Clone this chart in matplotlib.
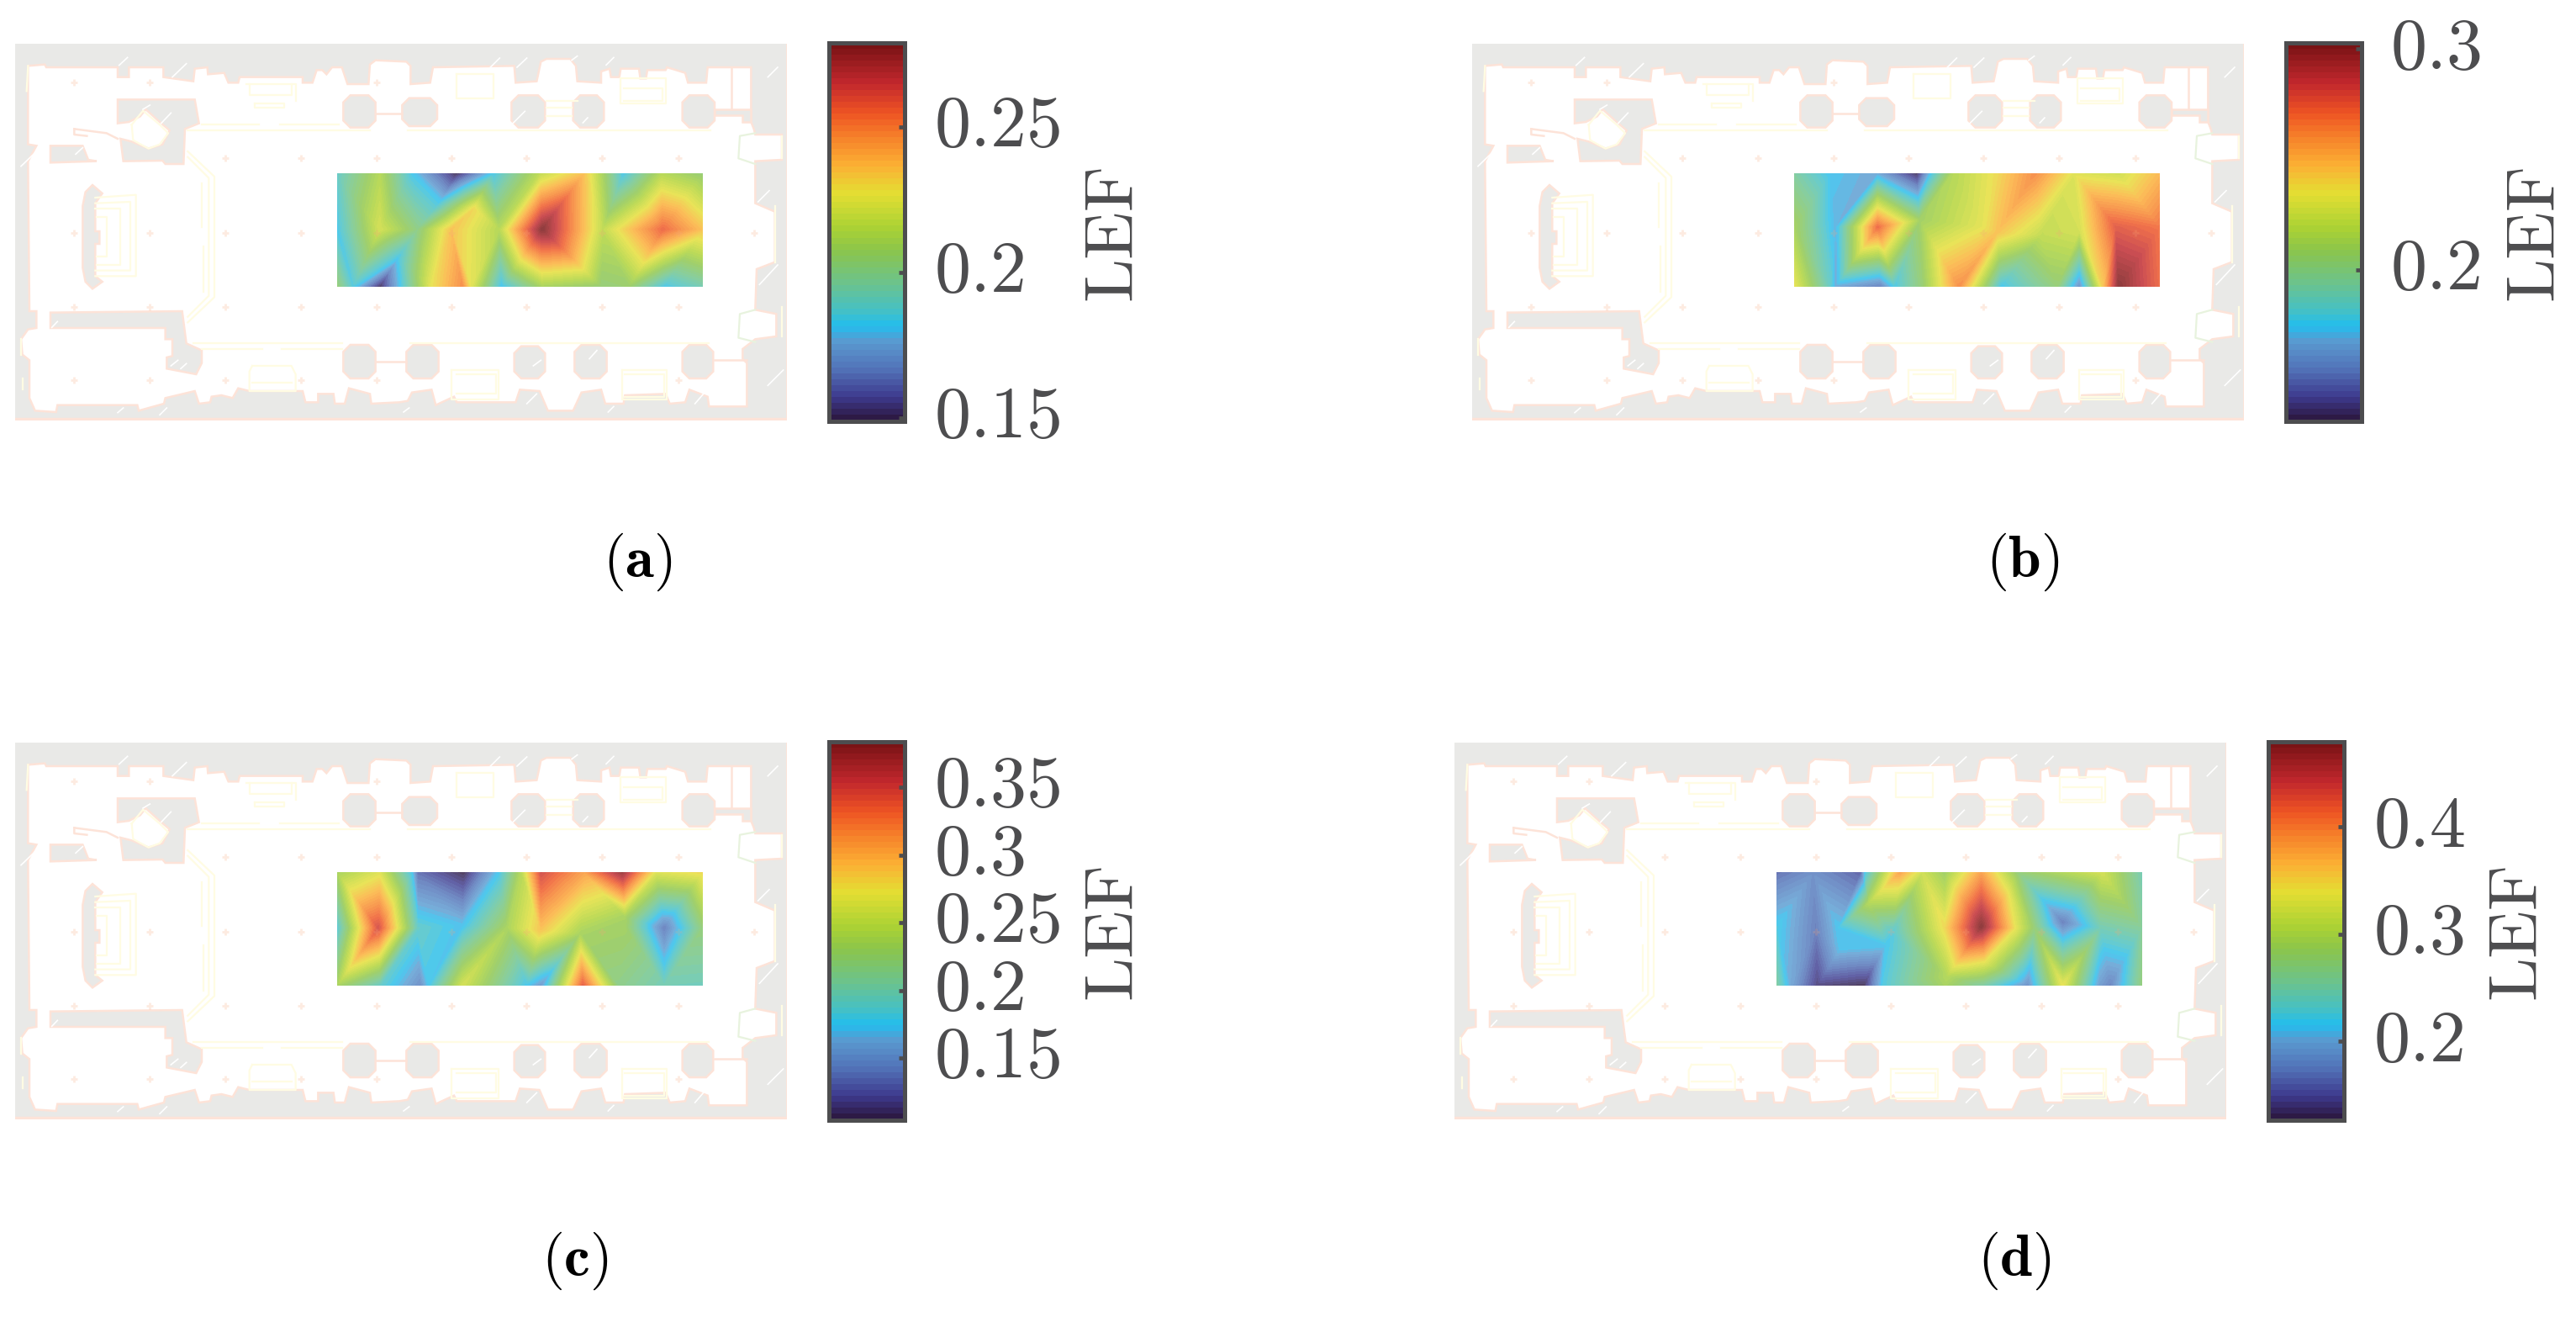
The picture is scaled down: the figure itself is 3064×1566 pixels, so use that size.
import numpy as np
import matplotlib
matplotlib.use("Agg")
import matplotlib.pyplot as plt
import matplotlib.tri as mtri
from matplotlib.cm import ScalarMappable
from matplotlib.colors import LinearSegmentedColormap, Normalize
from matplotlib.patches import Polygon
from matplotlib.transforms import ScaledTranslation

plt.rcParams['font.family'] = ['cmr10', 'DejaVu Sans']
plt.rcParams['mathtext.fontset'] = 'cm'
plt.rcParams['axes.formatter.use_mathtext'] = True

W, H = 3064, 1566
TEXT = '#4d4d4f'
GREY = '#e9e9e7'
ORANGE = '#fde3d8'
YELLOW = '#fffce3'

# heat map nodes: x, y (0-1305, 0-405), LEF value
a_x = [0, 152, 267, 427, 557, 727, 882, 1022, 1157, 1305,
       0, 152, 287, 407, 577, 732, 947, 1162, 1305, 487, 367, 217,
       0, 57, 152, 227, 287, 337, 447, 477, 587, 732, 942, 1042, 1167, 1305]
a_y = [0] * 10 + [200] * 9 + [127, 102, 302] + [405] * 14
a_v = [.188, .214, .182, .149, .182, .217, .235, .182, .214, .204,
       .182, .222, .201, .235, .214, .279, .217, .256, .235, .230, .182, .182,
       .204, .184, .149, .182, .207, .227, .248, .226, .180, .210, .204, .206, .182, .192]

b_x = [0, 128, 298, 438, 488, 568, 728, 858, 1000, 1158, 1305,
       0, 148, 298, 448, 678, 723, 880, 1018, 1148, 1305,
       0, 128, 148, 308, 358, 458, 588, 738, 938, 1018, 1103, 1158, 1305]
b_y = [0] * 11 + [192, 192, 192, 167, 192, 212, 220, 200, 192, 192] + [405] * 13
b_v = [.193, .174, .166, .132, .174, .217, .238, .262, .231, .226, .248,
       .212, .169, .272, .210, .234, .245, .222, .228, .277, .269,
       .234, .183, .166, .152, .176, .205, .262, .174, .204, .157, .243, .303, .272]

c_x = [0, 152, 267, 287, 452, 577, 657, 727, 882, 1017, 1137, 1305,
       0, 147, 287, 447, 607, 727, 867, 1027, 1167, 1305, 1027,
       0, 152, 297, 327, 447, 677, 727, 877, 1002, 1167, 1305]
c_y = [0] * 12 + [199, 199, 199, 189, 199, 205, 219, 199, 199, 199, 159] + [405] * 11
c_v = [.236, .266, .174, .132, .104, .174, .244, .350, .306, .376, .266, .278,
       .180, .348, .188, .171, .238, .289, .236, .233, .138, .222, .236,
       .236, .188, .146, .174, .261, .174, .152, .339, .216, .196, .194]

d_x = [0, 131, 301, 316, 441, 521, 601, 731, 861, 1161, 1305,
       0, 141, 221, 411, 601, 731, 851, 1021, 1156, 1305,
       231, 391, 331, 821, 661, 611, 741, 921,
       0, 51, 146, 311, 381, 601, 736, 896, 1021, 1151, 1191, 1305]
d_y = [0] * 11 + [199, 209, 199, 219, 199, 194, 199, 179, 199, 199,
                  269, 259, 109, 79, 299, 369, 319, 199] + [405] * 12
d_v = [.162, .180, .155, .215, .381, .321, .286, .381, .275, .325, .243,
       .222, .169, .215, .222, .346, .480, .339, .169, .243, .258,
       .215, .215, .304, .346, .374, .304, .339, .275,
       .254, .198, .138, .127, .222, .293, .251, .180, .339, .191, .173, .275]

a_ticks = [0.15, 0.2, 0.25]
b_ticks = [0.2, 0.3]
c_ticks = [0.15, 0.2, 0.25, 0.3, 0.35]
d_ticks = [0.2, 0.3, 0.4]
a_labels = ['0.15', '0.2', '0.25']
b_labels = ['0.2', '0.3']
c_labels = ['0.15', '0.2', '0.25', '0.3', '0.35']
d_labels = ['0.2', '0.3', '0.4']
limits = {'a': (.1489, .279), 'b': (.1315, .303), 'c': (.1043, .384), 'd': (.127, .480)}

# colour bar colours, bottom to top
cbar_pos = [0, .056, .13, .205, .247, .288, .363, .452, .512, .602, .677, .752, .819, .90, 1]
cbar_col = ['#2d1a45', '#3e3a8e', '#5272b8', '#5a9ad0', '#22bdee', '#45c0c5', '#6cc38c', '#8cc54a',
            '#acd234', '#e4de33', '#fbb034', '#f6822a', '#ee5323', '#c1272d', '#7a1315']

# floor plan outline, in zoomed picture units
hall = [(70, 100), (130, 95), (135, 105), (390, 105), (390, 140), (430, 140), (430, 105), (553, 105), (553, 140),
        (660, 155), (665, 110), (710, 105), (712, 130), (770, 125), (785, 160), (820, 160), (825, 140), (1050, 140),
        (1050, 160), (1085, 160), (1100, 115), (1120, 115), (1135, 130), (1155, 105), (1190, 105), (1210, 165),
        (1285, 165), (1290, 95), (1310, 80), (1420, 85), (1435, 100), (1435, 165), (1505, 160), (1515, 105),
        (1805, 100), (1810, 160), (1885, 155), (1900, 85), (1920, 75), (2005, 75), (2025, 100), (2030, 155),
        (2115, 160), (2115, 120), (2145, 110), (2150, 140), (2180, 140), (2185, 110), (2250, 110), (2255, 145),
        (2275, 145), (2280, 115), (2345, 115), (2350, 105), (2415, 125), (2425, 160), (2490, 160), (2495, 105),
        (2650, 105), (2650, 300), (2660, 325), (2665, 345), (2760, 345), (2760, 435), (2665, 440), (2665, 590),
        (2735, 620), (2735, 800), (2670, 825), (2665, 970), (2740, 985), (2740, 1065), (2665, 1075), (2620, 1110),
        (2620, 1145), (2635, 1160), (2635, 1315), (2500, 1315), (2495, 1280), (2430, 1255), (2415, 1300), (2360, 1305),
        (2345, 1270), (2200, 1275), (2195, 1305), (2130, 1305), (2115, 1255), (2045, 1265), (2015, 1330), (1925, 1330),
        (1895, 1260), (1825, 1255), (1810, 1300), (1600, 1300), (1590, 1280), (1525, 1310), (1510, 1255), (1440, 1265),
        (1425, 1295), (1395, 1300), (1295, 1305), (1290, 1270), (1215, 1250), (1200, 1305), (1165, 1305), (1160, 1270),
        (1105, 1270), (1105, 1300), (1060, 1300), (1050, 1260), (860, 1260), (820, 1250), (800, 1285), (760, 1275),
        (725, 1280), (720, 1300), (680, 1305), (665, 1260), (560, 1285), (555, 1305), (465, 1330), (460, 1310),
        (175, 1310), (170, 1335), (95, 1330), (75, 1285), (75, 1150), (50, 1130), (45, 1075), (70, 1040), (100, 1035),
        (100, 975), (75, 975), (70, 440), (100, 385), (70, 380)]

grey_parts = [
    [(390, 220), (665, 220), (680, 305), (630, 325), (625, 450), (560, 450), (550, 438), (410, 440), (400, 360),
     (440, 370), (500, 395), (550, 380), (575, 330), (540, 300), (490, 255), (470, 280), (430, 300), (390, 305)],
    [(150, 385), (265, 385), (285, 435), (315, 440), (150, 445)],
    [(300, 525), (335, 555), (310, 590), (310, 690), (325, 690), (325, 735), (310, 735), (310, 850), (335, 870),
     (300, 895), (275, 870), (265, 820), (265, 600), (275, 550)],
    [(150, 980), (620, 975), (635, 1090), (690, 1115), (690, 1160), (670, 1200), (565, 1180), (565, 1140), (585, 1135),
     (585, 1075), (560, 1075), (560, 1035), (150, 1035)],
    [(2520, 255), (2650, 255), (2650, 300), (2620, 300), (2620, 275), (2520, 275)],
]
piers = [(1195, 205, 1310, 320), (1405, 215, 1530, 315), (1795, 205, 1915, 320), (2015, 205, 2125, 320),
         (2405, 205, 2520, 320), (1195, 1095, 1310, 1215), (1420, 1095, 1535, 1215), (1805, 1100, 1915, 1215),
         (2020, 1095, 2135, 1215), (2405, 1095, 2515, 1215)]

orange_lines = [[(235, 325), (350, 340), (390, 360)], [(235, 325), (235, 345), (280, 350)],
                [(2580, 105), (2580, 255)], [(2520, 1150), (2635, 1150)], [(1310, 270), (1405, 270)], [(1310, 1155), (1420, 1155)]]

yellow_lines = [[(310, 570), (455, 560), (455, 850), (310, 850)], [(310, 590), (435, 585), (435, 830), (310, 830)],
                [(310, 610), (400, 610), (400, 810), (315, 810)], [(315, 640), (350, 640), (350, 780), (315, 780)],
                [(640, 405), (735, 495), (735, 925), (640, 1015)], [(640, 425), (715, 500), (715, 920), (640, 995)],
                [(690, 520), (690, 675)], [(695, 745), (695, 905)],
                [(860, 165), (860, 205), (1010, 205), (1010, 165)], [(850, 165), (1025, 165), (1025, 225)],
                [(880, 235), (985, 235), (985, 250), (880, 250), (880, 235)],
                [(690, 310), (895, 310)], [(970, 310), (1180, 310)], [(640, 330), (1290, 330)], [(1425, 330), (2505, 330)],
                [(660, 1090), (1190, 1090)], [(690, 1110), (905, 1110)], [(975, 1110), (1190, 1110)], [(1435, 1090), (2500, 1090)],
                [(870, 1170), (1010, 1170), (1025, 1200), (1025, 1260), (860, 1260), (860, 1190), (870, 1170)], [(870, 1230), (1010, 1230)],
                [(1600, 130), (1730, 130), (1730, 215), (1600, 215), (1600, 130)],
                [(2185, 145), (2345, 145), (2345, 235), (2185, 235), (2185, 145)], [(2195, 180), (2335, 180), (2335, 225), (2195, 225)],
                [(1580, 1185), (1750, 1185), (1750, 1290), (1580, 1290), (1580, 1185)], [(1600, 1200), (1740, 1200), (1740, 1270), (1600, 1270)],
                [(2190, 1185), (2350, 1185), (2350, 1290), (2190, 1290), (2190, 1185)], [(2200, 1200), (2340, 1200), (2340, 1280), (2200, 1280)],
                [(2735, 600), (2735, 800)], [(2760, 350), (2760, 430)], [(2760, 960), (2760, 1065)],
                [(1920, 225), (2030, 225)], [(1920, 250), (2010, 250)], [(1920, 280), (2010, 280)],
                [(440, 310), (480, 260), (540, 310), (570, 340), (540, 380), (500, 395), (445, 365), (440, 310)],
                [(45, 1075), (45, 1130)], [(70, 100), (65, 190)], [(50, 1215), (50, 1255)]]

green_lines = [[(2665, 340), (2610, 350), (2605, 430), (2665, 450)], [(2665, 970), (2610, 985), (2605, 1070), (2665, 1085)]]

slashes = [(395, 98, 425, 70), (585, 140, 635, 92), (45, 458, 95, 410), (240, 415, 265, 392), (155, 1033, 175, 1012),
           (580, 1170, 605, 1150), (615, 1180, 635, 1162), (390, 1337, 410, 1320), (540, 1345, 565, 1320),
           (1720, 105, 1753, 72), (1815, 105, 1850, 72), (2010, 80, 2030, 65), (2133, 97, 2160, 70), (2710, 140, 2745, 105),
           (1800, 305, 1843, 262), (2050, 303, 2067, 285), (2675, 585, 2715, 545), (2680, 880, 2745, 810), (2710, 1240, 2765, 1185),
           (1873, 1170, 1900, 1150), (2073, 1145, 2100, 1115), (1850, 1305, 1885, 1270), (2450, 1305, 2480, 1270),
           (2140, 1335, 2160, 1315), (1410, 1335, 1430, 1320), (480, 255, 505, 240), (545, 305, 580, 268)]

cross_x = [233, 503, 775, 1045, 1315, 1582, 1847, 2118, 2390, 2660]
cross_rows = {160: [233, 503, 1315], 428: cross_x[2:9], 695: cross_x, 960: cross_x[:9], 1222: cross_x[:5] + [2390]}

cmap_bar = LinearSegmentedColormap.from_list('lef', list(zip(cbar_pos, cbar_col)), N=64)
# the map is drawn a little see-through over the plan
rgba = cmap_bar(np.linspace(0, 1, 64))
rgba[:, :3] = rgba[:, :3] * 0.82 + 0.18
cmap_map = LinearSegmentedColormap.from_list('lef_map', rgba, N=64)


def to_plan(pts):
    pts = np.array(pts, dtype=float)
    return pts[:, 0] / 3 - 8, pts[:, 1] / 3 - 7


def add_axes_px(fig, x0, y0, x1, y1):
    return fig.add_axes([x0 / W, 1 - y1 / H, (x1 - x0) / W, (y1 - y0) / H])


def draw_plan(ax):
    ax.add_patch(Polygon([(0, 0), (918, 0), (918, 446), (0, 446)], fc=GREY, ec='none', zorder=1))
    ax.plot([0, 918], [446, 446], color=ORANGE, lw=2.5, zorder=2)
    ax.plot([918, 918], [0, 446], color=ORANGE, lw=2.0, zorder=2)
    px, py = to_plan(hall)
    ax.add_patch(Polygon(np.c_[px, py], fc='white', ec=ORANGE, lw=1.8, zorder=2))
    for part in grey_parts:
        px, py = to_plan(part)
        ax.add_patch(Polygon(np.c_[px, py], fc=GREY, ec=ORANGE, lw=1.8, zorder=3))
    for x0, y0, x1, y1 in piers:
        c = 25
        px, py = to_plan([(x0 + c, y0), (x1 - c, y0), (x1, y0 + c), (x1, y1 - c), (x1 - c, y1), (x0 + c, y1), (x0, y1 - c), (x0, y0 + c)])
        ax.add_patch(Polygon(np.c_[px, py], fc=GREY, ec=ORANGE, lw=1.8, zorder=3))
    for line in orange_lines:
        px, py = to_plan(line)
        ax.plot(px, py, color=ORANGE, lw=1.8, zorder=3)
    for line in yellow_lines:
        px, py = to_plan(line)
        ax.plot(px, py, color=YELLOW, lw=1.6, zorder=4)
    for line in green_lines:
        px, py = to_plan(line)
        ax.plot(px, py, color='#e8f3de', lw=1.6, zorder=4)
    for x0, y0, x1, y1 in slashes:
        px, py = to_plan([(x0, y0), (x1, y1)])
        ax.plot(px, py, color='white', lw=1.2, zorder=4)


def draw_panel(fig, ox, oy, nx, ny, nv, lim, bar_x, ticks, labels, label_x, lef_x, cap, cap_x, cap_y):
    ax = add_axes_px(fig, ox, oy, ox + 918, oy + 448)
    ax.set_xlim(0, 918)
    ax.set_ylim(448, 0)
    ax.axis('off')
    draw_plan(ax)

    tri = mtri.Triangulation(383 + np.array(nx) / 3, 154 + np.array(ny) / 3)
    levels = np.linspace(lim[0], lim[1], 65)
    ax.tricontourf(tri, nv, levels=levels, cmap=cmap_map, vmin=lim[0], vmax=lim[1], zorder=5, antialiased=False)

    for row, cols in cross_rows.items():
        px, py = to_plan([(c, row) for c in cols])
        ax.scatter(px, py, marker='+', s=35, color='#f7a67a', alpha=0.22, lw=2, zorder=6)

    cax = add_axes_px(fig, bar_x + 2.5, oy - 1.5, bar_x + 92.5, oy + 448.5)
    cb = fig.colorbar(ScalarMappable(Normalize(*lim), cmap_bar), cax=cax)
    cb.outline.set_edgecolor(TEXT)
    cb.outline.set_linewidth(3.6)
    cb.set_ticks(ticks, labels=labels)
    cb.ax.minorticks_off()
    cax.tick_params(direction='in', length=4.7, width=3.4, color=TEXT, labelcolor=TEXT,
                    labelsize=62, pad=(label_x - (bar_x + 92.5)) * 0.72)
    shift = ScaledTranslation(0, 7 / 100, fig.dpi_scale_trans)
    for t in cax.get_yticklabels():
        t.set_transform(t.get_transform() + shift)

    fig.text(lef_x / W, 1 - (oy + 223.5) / H, 'LEF', rotation=90, ha='center', va='center', fontsize=60, color=TEXT)
    fig.text(cap_x / W, 1 - cap_y / H, r'$(\mathbf{' + cap + r'})$', ha='center', va='center', fontsize=50, color='black')


fig = plt.figure(figsize=(W / 100, H / 100), dpi=100)
draw_panel(fig, 18, 52, a_x, a_y, a_v, limits['a'], 983, a_ticks, a_labels, 1112, 1324, 'a', 758, 668)
draw_panel(fig, 1751, 52, b_x, b_y, b_v, limits['b'], 2716, b_ticks, b_labels, 2844, 3015, 'b', 2406, 668)
draw_panel(fig, 18, 883, c_x, c_y, c_v, limits['c'], 983, c_ticks, c_labels, 1112, 1324, 'c', 684, 1499)
draw_panel(fig, 1730, 883, d_x, d_y, d_v, limits['d'], 2695, d_ticks, d_labels, 2824, 2994, 'd', 2396, 1499)
fig.savefig("out.png", dpi=100)
